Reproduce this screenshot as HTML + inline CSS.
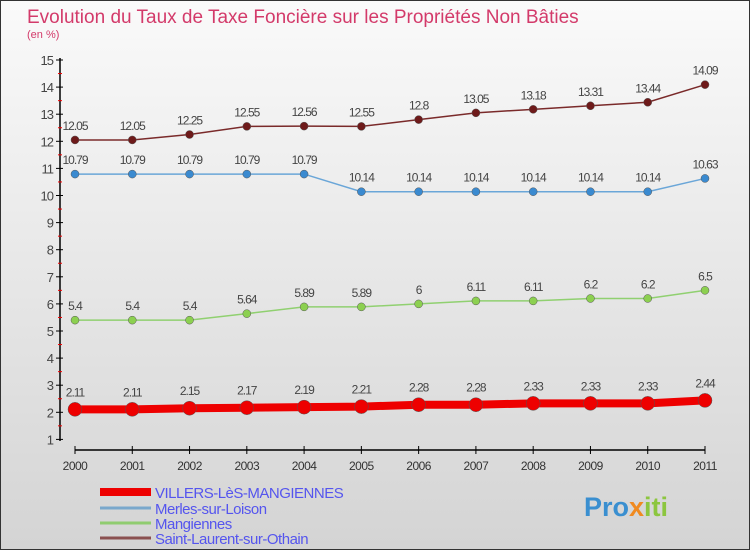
<!DOCTYPE html>
<html><head><meta charset="utf-8"><style>
body{margin:0;width:750px;height:550px;overflow:hidden;font-family:"Liberation Sans",sans-serif}
#c{position:absolute;left:0;top:0;width:748px;height:548px;border:1px solid #333;background:linear-gradient(#fafafa,#d4d4d4)}
</style></head><body>
<div id="c">
<svg id="s" width="750" height="550" xmlns="http://www.w3.org/2000/svg" style="position:absolute;left:-1px;top:-1px">
<text x="27" y="23" font-size="19" fill="#d33a6a">Evolution du Taux de Taxe Foncière sur les Propriétés Non Bâties</text>
<text x="27" y="38" font-size="11" fill="#d33a6a">(en %)</text>
<g id="g"></g>
<text x="584" y="516" font-size="27" font-weight="bold" fill="#3a8fd0">Pro<tspan fill="#f08a20">x</tspan><tspan fill="#8cc63f">iti</tspan></text>
</svg></div>
<script>
const years=[2000,2001,2002,2003,2004,2005,2006,2007,2008,2009,2010,2011];
const villers=[2.11,2.11,2.15,2.17,2.19,2.21,2.28,2.28,2.33,2.33,2.33,2.44];
const merles=[10.79,10.79,10.79,10.79,10.79,10.14,10.14,10.14,10.14,10.14,10.14,10.63];
const mangiennes=[5.4,5.4,5.4,5.64,5.89,5.89,6,6.11,6.11,6.2,6.2,6.5];
const stlaurent=[12.05,12.05,12.25,12.55,12.56,12.55,12.8,13.05,13.18,13.31,13.44,14.09];
const yTicks=[1,2,3,4,5,6,7,8,9,10,11,12,13,14,15];
const seriesNames=["VILLERS-LèS-MANGIENNES","Merles-sur-Loison","Mangiennes","Saint-Laurent-sur-Othain"];
const NS="http://www.w3.org/2000/svg",g=document.getElementById('g');
const X=i=>75+i*(630/11), Y=v=>60+(15-v)*27.1;
function mk(t,a,p){const e=document.createElementNS(NS,t);for(const k in a)e.setAttribute(k,a[k]);(p||g).appendChild(e);return e;}
let e=mk('line',{x1:60,y1:58,x2:60,y2:441,stroke:'#000','stroke-width':1.5});


yTicks.forEach(v=>{mk('line',{x1:56,x2:63,y1:Y(v),y2:Y(v),stroke:'#000'});
 if(v<15)mk('line',{x1:58,x2:62,y1:Y(v+0.5),y2:Y(v+0.5),stroke:'#e00'});
 const t=mk('text',{x:53,y:Y(v)+5,'font-size':13,fill:'#444','text-anchor':'end','letter-spacing':-1});t.textContent=v;
 
 });
e=mk('line',{x1:75,y1:450,x2:705,y2:450,stroke:'#000','stroke-width':1.5});


years.forEach((y,i)=>{mk('line',{x1:X(i),x2:X(i),y1:446,y2:454,stroke:'#000'});
 const t=mk('text',{x:X(i),y:470,'font-size':12,fill:'#333','text-anchor':'middle','letter-spacing':-0.5});t.textContent=y;
 
 });
function series(d,col,dot,w,r,name,lblOff){
 const pts=d.map((v,i)=>X(i)+','+Y(v)).join(' ');
 const l=mk('polyline',{points:pts,fill:'none',stroke:col,'stroke-width':w});
 
 
 d.forEach((v,i)=>{const c=mk('circle',{cx:X(i),cy:Y(v),r:r,fill:dot,stroke:'#555','stroke-width':0.5});
  
  
  const t=mk('text',{x:X(i),y:Y(v)-lblOff,'font-size':12,fill:'#444','text-anchor':'middle','letter-spacing':-1});t.textContent=v;
  
  });
}
series(stlaurent,'#7a2a2a','#6e1a1a',1.5,4,'saint-laurent',10);
series(merles,'#6aa6d8','#3a8ad0',1.5,4,'merles',10);
series(mangiennes,'#90d070','#8cd050',1.5,4,'mangiennes',10);
series(villers,'#ee0000','#ee0000',8,7,'villers',13);
const cols=['#ee0000','#7aa8cc','#90cc70','#8a5050'],ws=[8,3,3,3],ly=[498,514,529,544];
seriesNames.forEach((n,i)=>{const l=mk('line',{x1:100,x2:151,y1:ly[i]-6,y2:ly[i]-6,stroke:cols[i],'stroke-width':ws[i]});
 
 
 const t=mk('text',{x:155,y:ly[i],'font-size':15,fill:'#5555ee','letter-spacing':-0.5});t.textContent=n;
 
 });
</script>
</body></html>
